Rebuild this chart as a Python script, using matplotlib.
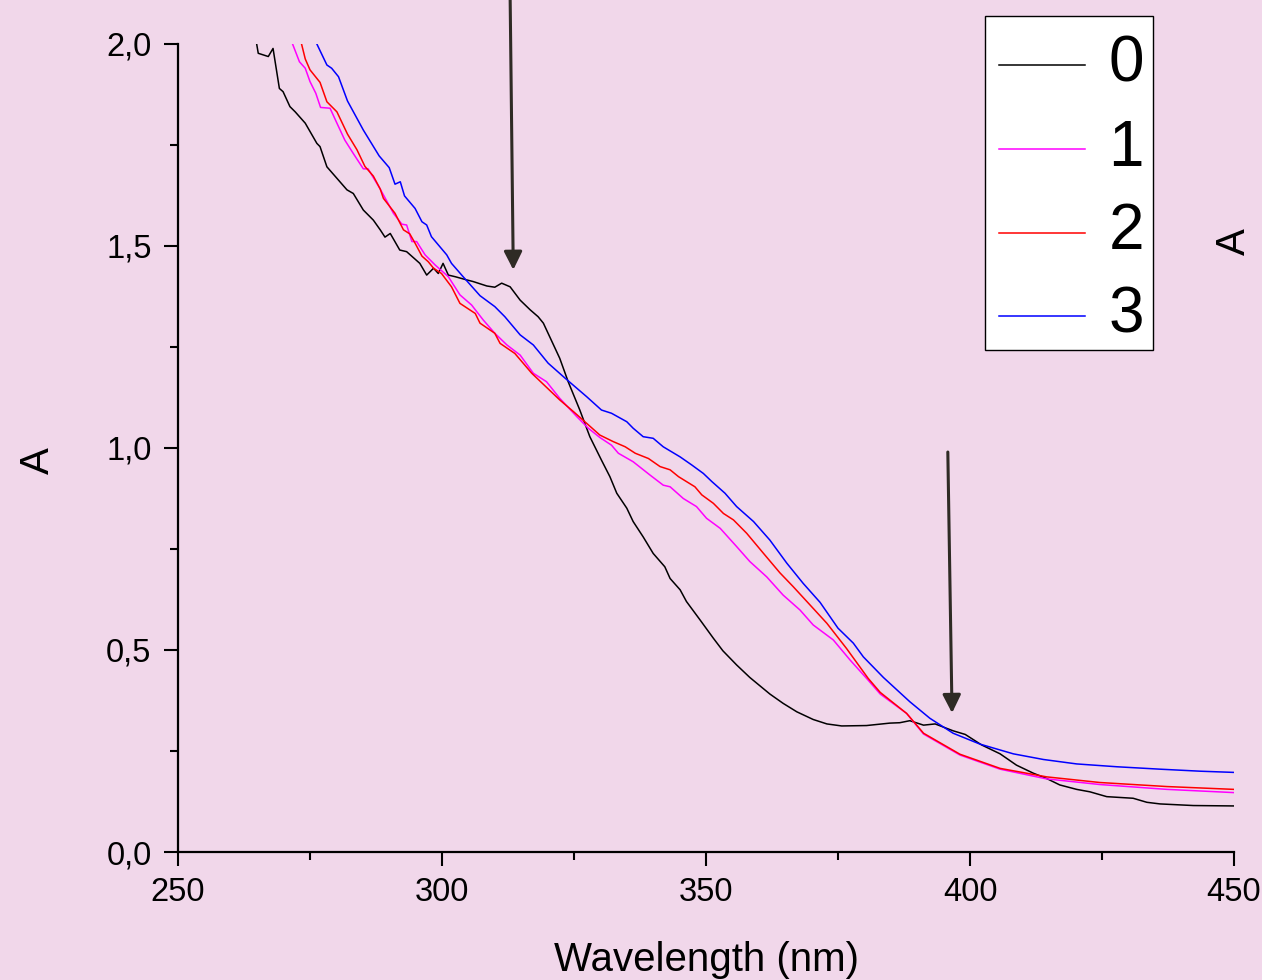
import matplotlib
matplotlib.use("Agg")
import matplotlib.pyplot as plt
from matplotlib.patches import Rectangle
from matplotlib.ticker import MultipleLocator, FuncFormatter

plt.rcParams['font.family'] = ['Liberation Sans', 'DejaVu Sans']

# absorbance spectra, wavelength (nm) vs A
wl_0 = [264.9, 265.2, 267.1, 268.0, 269.2, 269.9, 271.2, 272.2, 274.1, 276.3, 276.9,
        278.2, 280.4, 282.0, 283.2, 285.1, 287.0, 288.3, 289.2, 290.2, 292.0, 293.3,
        295.8, 297.1, 298.4, 299.3, 300.2, 301.2, 302.5, 304.7, 305.9, 308.5, 310.0,
        311.3, 312.9, 314.8, 316.7, 318.2, 319.2, 322.3, 323.9, 326.1, 328.0, 330.2,
        331.8, 333.1, 335.0, 336.2, 338.1, 340.0, 342.2, 343.2, 345.1, 346.3, 348.9,
        351.4, 353.2, 355.8, 358.3, 362.1, 364.6, 367.2, 370.3, 372.9, 375.7, 380.4,
        384.8, 386.7, 388.6, 391.2, 393.4, 396.8, 399.1, 402.2, 405.7, 408.8, 412.0,
        414.5, 417.0, 420.2, 422.7, 425.9, 430.9, 433.5, 436.0, 442.3, 450.0]
abs_0 = [2.000, 1.977, 1.969, 1.989, 1.890, 1.882, 1.845, 1.832, 1.804, 1.754, 1.746,
         1.696, 1.663, 1.639, 1.630, 1.589, 1.564, 1.540, 1.522, 1.531, 1.490, 1.486,
         1.457, 1.428, 1.445, 1.432, 1.457, 1.428, 1.424, 1.416, 1.412, 1.401, 1.398,
         1.408, 1.399, 1.366, 1.342, 1.325, 1.309, 1.222, 1.164, 1.094, 1.028, 0.970,
         0.929, 0.888, 0.851, 0.818, 0.780, 0.739, 0.706, 0.677, 0.649, 0.620, 0.574,
         0.529, 0.498, 0.463, 0.432, 0.391, 0.368, 0.347, 0.328, 0.317, 0.312, 0.313,
         0.319, 0.320, 0.325, 0.314, 0.317, 0.300, 0.291, 0.265, 0.243, 0.215, 0.195,
         0.182, 0.166, 0.155, 0.149, 0.137, 0.133, 0.123, 0.119, 0.115, 0.114]

wl_1 = [271.7, 273.0, 274.1, 275.0, 276.1, 277.0, 278.8, 280.1, 281.6, 283.2, 285.1,
        286.0, 288.3, 290.8, 292.4, 293.3, 294.3, 295.2, 296.8, 298.7, 301.2, 303.4,
        305.6, 307.8, 310.0, 312.3, 314.8, 317.3, 319.8, 322.3, 325.5, 327.7, 329.9,
        332.1, 333.4, 336.2, 339.4, 341.9, 343.2, 345.7, 348.2, 350.1, 352.7, 355.8,
        358.3, 361.5, 364.6, 367.8, 370.3, 374.1, 377.3, 380.4, 383.0, 388.0, 391.2,
        398.1, 405.7, 414.5, 424.6, 437.3, 450.0]
abs_1 = [2.000, 1.956, 1.940, 1.907, 1.878, 1.843, 1.841, 1.804, 1.762, 1.729, 1.691,
         1.691, 1.641, 1.581, 1.554, 1.552, 1.511, 1.511, 1.478, 1.453, 1.424, 1.379,
         1.354, 1.317, 1.284, 1.255, 1.230, 1.185, 1.164, 1.123, 1.078, 1.049, 1.026,
         1.007, 0.987, 0.966, 0.933, 0.908, 0.904, 0.875, 0.855, 0.826, 0.801, 0.756,
         0.719, 0.681, 0.636, 0.599, 0.562, 0.525, 0.475, 0.430, 0.391, 0.343, 0.292,
         0.240, 0.205, 0.181, 0.167, 0.155, 0.147]

wl_2 = [273.4, 274.1, 275.0, 276.9, 278.2, 280.1, 282.1, 283.9, 285.4, 287.0, 288.3,
        288.9, 291.1, 292.7, 293.9, 294.9, 296.2, 297.4, 298.4, 299.9, 301.8, 303.4,
        306.3, 307.2, 310.0, 311.0, 313.8, 317.0, 322.3, 324.9, 327.4, 329.9, 332.4,
        334.7, 336.6, 339.1, 341.3, 343.2, 344.8, 347.9, 349.2, 351.4, 353.3, 355.2,
        357.7, 360.9, 364.0, 366.5, 370.3, 372.9, 376.6, 380.7, 383.0, 388.0, 391.2,
        398.1, 405.7, 414.5, 424.6, 437.3, 450.0]
abs_2 = [2.000, 1.963, 1.936, 1.905, 1.857, 1.832, 1.777, 1.738, 1.697, 1.673, 1.641,
         1.618, 1.581, 1.540, 1.530, 1.507, 1.475, 1.461, 1.445, 1.432, 1.399, 1.358,
         1.333, 1.309, 1.284, 1.259, 1.234, 1.185, 1.119, 1.090, 1.061, 1.032, 1.016,
         1.003, 0.987, 0.974, 0.954, 0.946, 0.929, 0.904, 0.884, 0.863, 0.838, 0.822,
         0.789, 0.739, 0.691, 0.657, 0.603, 0.566, 0.504, 0.430, 0.395, 0.343, 0.294,
         0.242, 0.207, 0.186, 0.172, 0.162, 0.155]

wl_3 = [276.3, 278.2, 279.1, 280.4, 282.1, 285.1, 288.1, 290.0, 291.1, 292.1, 292.9,
        294.9, 296.2, 297.1, 298.0, 300.9, 301.8, 304.0, 307.2, 310.0, 311.9, 314.8,
        317.3, 320.1, 323.3, 327.4, 330.2, 332.1, 335.0, 336.2, 338.1, 340.0, 341.9,
        345.1, 347.3, 349.5, 351.1, 353.6, 355.8, 359.0, 362.1, 365.3, 368.4, 371.6,
        375.0, 377.9, 379.8, 383.6, 388.6, 392.4, 396.8, 401.9, 408.2, 413.9, 420.2,
        427.8, 436.0, 443.6, 450.0]
abs_3 = [2.000, 1.948, 1.940, 1.919, 1.859, 1.787, 1.723, 1.694, 1.653, 1.659, 1.624,
         1.593, 1.560, 1.552, 1.523, 1.478, 1.457, 1.424, 1.377, 1.350, 1.325, 1.280,
         1.255, 1.210, 1.173, 1.127, 1.094, 1.086, 1.065, 1.049, 1.028, 1.024, 1.003,
         0.978, 0.958, 0.937, 0.917, 0.888, 0.855, 0.818, 0.772, 0.715, 0.665, 0.618,
         0.554, 0.517, 0.483, 0.432, 0.372, 0.331, 0.294, 0.267, 0.243, 0.229, 0.218,
         0.211, 0.205, 0.200, 0.197]

series = [(wl_0, abs_0, '0', 'black'),
          (wl_1, abs_1, '1', '#ff00ff'),
          (wl_2, abs_2, '2', '#ff0000'),
          (wl_3, abs_3, '3', '#0000ff')]

# arrows marking the band changes: (x_start, y_start, x_tip, y_tip)
arrows = [(312.9, 2.121, 313.5, 1.441),
          (395.8, 0.990, 396.6, 0.344)]

W, H = 1262, 980
bg = '#f1d7ea'
fig = plt.figure(figsize=(W / 100, H / 100), dpi=100, facecolor=bg)
ax = fig.add_axes([178 / W, 128 / H, 1056 / W, 808 / H])
ax.set_facecolor(bg)

for x, y, lab, col in series:
    ax.plot(x, y, color=col, lw=1.1, label=lab)

for x0, y0, x1, y1 in arrows:
    ax.annotate('', xy=(x1, y1), xytext=(x0, y0), annotation_clip=False,
                arrowprops=dict(arrowstyle='-|>,head_length=1.1,head_width=0.55',
                                color='#2f2b25', lw=2.2, shrinkA=0, shrinkB=0,
                                mutation_scale=10))

ax.set_xlim(250, 450)
ax.set_ylim(0, 2)
for s in ['top', 'right']:
    ax.spines[s].set_visible(False)
for s in ['left', 'bottom']:
    ax.spines[s].set_linewidth(1.6)

ax.xaxis.set_major_locator(MultipleLocator(50))
ax.xaxis.set_minor_locator(MultipleLocator(25))
ax.yaxis.set_major_locator(MultipleLocator(0.5))
ax.yaxis.set_minor_locator(MultipleLocator(0.25))
ax.yaxis.set_major_formatter(FuncFormatter(lambda v, p: f'{v:.1f}'.replace('.', ',')))
ax.tick_params(which='major', length=10, width=1.5, labelsize=23.5)
ax.tick_params(which='minor', length=6, width=1.5)
ax.tick_params(axis='y', pad=9)
ax.tick_params(axis='x', pad=8)

ax.set_xlabel('Wavelength (nm)', fontsize=29, labelpad=24)
ax.set_ylabel('A', fontsize=29)
ax.yaxis.set_label_coords(-0.115, 0.484)
fig.text(1234 / W, 1 - 242 / H, 'A', fontsize=29, rotation=90,
         ha='center', va='center')

# legend box drawn separately so the padding can be uneven
ax.add_patch(Rectangle((985 / W, 1 - 350 / H), 168 / W, 334 / H,
                       transform=fig.transFigure, clip_on=False,
                       facecolor='white', edgecolor='black', lw=1.0, zorder=4))
leg = ax.legend(loc='upper left', bbox_to_anchor=(999 / W, 1 - 35 / H),
                bbox_transform=fig.transFigure, borderaxespad=0, fontsize=46,
                handlelength=1.35, handleheight=0.1, handletextpad=0.36,
                borderpad=0, labelspacing=0.37, frameon=False)
leg.set_zorder(5)

fig.savefig('out.png', dpi=100, facecolor=bg)
